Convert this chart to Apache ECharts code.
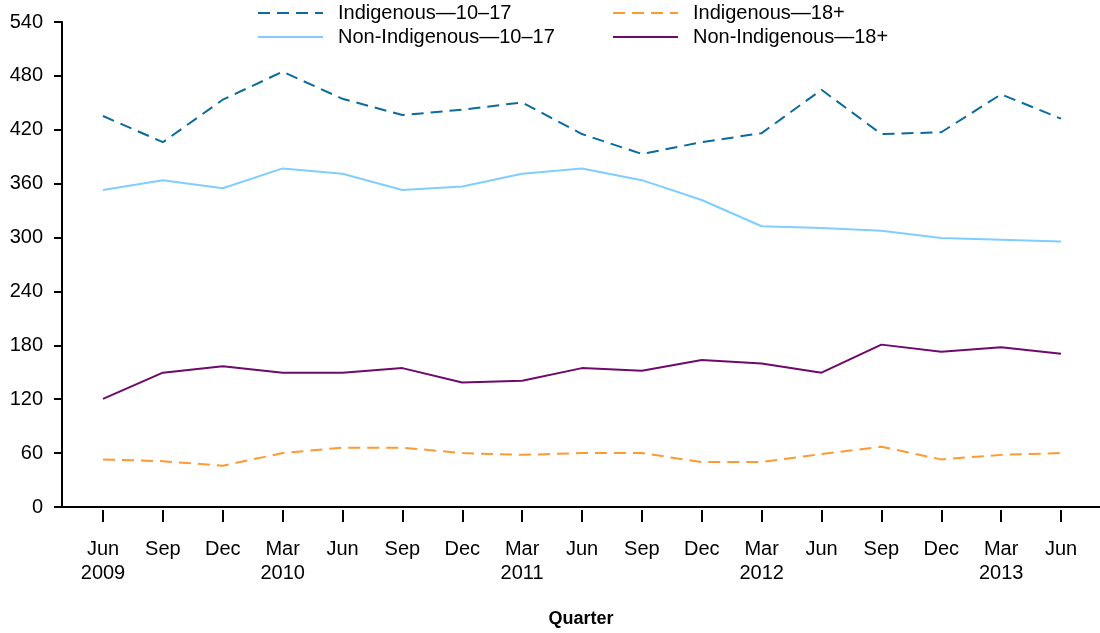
<!DOCTYPE html>
<html><head><meta charset="utf-8">
<script src="https://cdn.jsdelivr.net/npm/echarts@6/dist/echarts.min.js"></script>
<style>html,body{margin:0;padding:0;background:#fff}#c{width:1100px;height:633px}</style>
</head><body><div id="c"></div>
<script>
const quarters = ['Jun\n2009','Sep','Dec','Mar\n2010','Jun','Sep','Dec','Mar\n2011','Jun','Sep','Dec','Mar\n2012','Jun','Sep','Dec','Mar\n2013','Jun'];
const indig1017 = [436,407,454,485,455,437,443,451,416,394,407,417,465,416,418,460,433];
const nonIndig1017 = [354,365,356,378,372,354,358,372,378,365,343,314,312,309,301,299,297];
const indig18 = [56,54,49,63,69,69,63,61,63,63,53,53,62,70,56,61,63];
const nonIndig18 = [123,152,159,152,152,157,141,143,157,154,166,162,152,183,175,180,173];
const yTicks = [0,60,120,180,240,300,360,420,480,540];

const FONT = 'Liberation Sans, Arial, sans-serif';
const names = ['Indigenous\u201410\u201317','Non-Indigenous\u201410\u201317','Indigenous\u201418+','Non-Indigenous\u201418+'];
const colors = ['#0b6a9e','#80ceff','#ff9933','#6e0a6b'];
const dashed = [true,false,true,false];
const datas = [indig1017, nonIndig1017, indig18, nonIndig18];

const chart = echarts.init(document.getElementById('c'));
const legendPos = [[257,3],[257,27],[612,3],[612,27]];
chart.setOption({
  animation:false,
  legend: names.map((n,i)=>({
    show:true,
    data:[n], left:legendPos[i][0], top:legendPos[i][1],
    itemWidth:65, itemHeight:20, itemGap:0, padding:0,
    itemStyle:{opacity:0},
    lineStyle:{width:2,type:dashed[i]?[12,7]:'solid'},
    textStyle:{fontFamily:FONT,fontSize:20,color:'#000',padding:[0,0,0,10]}
  })),
  grid:[
    {left:103,right:39,top:22,bottom:123},
    {left:62,right:0,top:22,bottom:123}
  ],
  xAxis:[
    {type:'category',gridIndex:0,data:quarters,boundaryGap:false,
     axisLine:{show:false},
     axisTick:{show:true,length:12,inside:false,lineStyle:{color:'#000',width:2}},
     axisLabel:{fontFamily:FONT,fontSize:20,color:'#000',margin:27,lineHeight:24,interval:0},
     splitLine:{show:false}},
    {type:'value',gridIndex:1,min:0,max:1,
     axisLine:{show:true,onZero:false,lineStyle:{color:'#000',width:2}},
     axisTick:{show:false},axisLabel:{show:false},splitLine:{show:false},
     name:'Quarter',nameLocation:'middle',nameGap:103,
     nameTextStyle:{fontFamily:FONT,fontSize:18,fontWeight:'bold',color:'#000'}}
  ],
  yAxis:[
    {type:'value',gridIndex:0,min:0,max:540,interval:60,show:false,splitLine:{show:false}},
    {type:'value',gridIndex:1,min:yTicks[0],max:yTicks[yTicks.length-1],interval:60,
     axisLine:{show:true,lineStyle:{color:'#000',width:2}},
     axisTick:{show:true,length:8,lineStyle:{color:'#000',width:2}},
     axisLabel:{fontFamily:FONT,fontSize:20,color:'#000',margin:19},
     splitLine:{show:false}}
  ],
  series: names.map((n,i)=>({
    name:n,type:'line',xAxisIndex:0,yAxisIndex:0,data:datas[i],
    showSymbol:false,symbol:'none',
    lineStyle:{color:colors[i],width:2,type:dashed[i]?[12,7]:'solid'},
    itemStyle:{color:colors[i]}
  }))
});
</script>
</body></html>
